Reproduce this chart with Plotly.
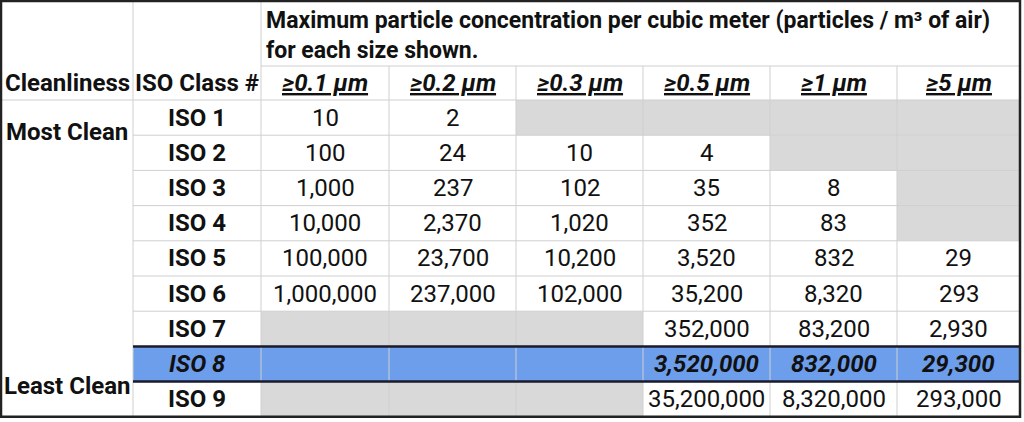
import plotly.graph_objects as go

# ---- data ----
sizes = ["≥0.1 µm", "≥0.2 µm", "≥0.3 µm", "≥0.5 µm", "≥1 µm", "≥5 µm"]
iso_classes = ["ISO 1", "ISO 2", "ISO 3", "ISO 4", "ISO 5", "ISO 6", "ISO 7", "ISO 8", "ISO 9"]
iso1 = ["10", "2", None, None, None, None]
iso2 = ["100", "24", "10", "4", None, None]
iso3 = ["1,000", "237", "102", "35", "8", None]
iso4 = ["10,000", "2,370", "1,020", "352", "83", None]
iso5 = ["100,000", "23,700", "10,200", "3,520", "832", "29"]
iso6 = ["1,000,000", "237,000", "102,000", "35,200", "8,320", "293"]
iso7 = [None, None, None, "352,000", "83,200", "2,930"]
iso8 = [None, None, None, "3,520,000", "832,000", "29,300"]
iso9 = [None, None, None, "35,200,000", "8,320,000", "293,000"]
rows = [iso1, iso2, iso3, iso4, iso5, iso6, iso7, iso8, iso9]
highlight = "ISO 8"
title = "Maximum particle concentration per cubic meter (particles / m³ of air)<br>for each size shown."

# ---- geometry ----
col_x = [0, 133, 261, 389, 516, 643, 770, 897, 1020]
top, title_bot, head_bot = 1, 66, 100
row_h = 35.2
FONT = "Roboto"
GRID = "#cfcfcf"
GREY = "#d9d9d9"
BLUE = "#6d9eeb"

fig = go.Figure()
shapes, ann = [], []

def rect(x0, y0, x1, y1, fill):
    shapes.append(dict(type="rect", x0=x0, x1=x1, y0=y0, y1=y1, fillcolor=fill,
                       line=dict(width=0), layer="below"))

def line(x0, y0, x1, y1, color=GRID, w=1):
    shapes.append(dict(type="line", x0=x0, x1=x1, y0=y0, y1=y1, line=dict(color=color, width=w)))

def text(x, y, s, size=24, anchor="center"):
    ann.append(dict(x=x, y=y, text=s, showarrow=False, xanchor=anchor, yanchor="middle",
                    align="left", font=dict(family=FONT, size=size, color="#111")))

bottom = head_bot + row_h * len(rows)

# fills
for i, (name, vals) in enumerate(zip(iso_classes, rows)):
    y0 = head_bot + i * row_h
    if name == highlight:
        rect(col_x[1], y0, col_x[-1], y0 + row_h, BLUE)
    for j, v in enumerate(vals):
        if v is None and name != highlight:
            rect(col_x[j + 2], y0, col_x[j + 3], y0 + row_h, GREY)

# grid
for i in range(1, len(rows)):
    y = head_bot + i * row_h
    line(col_x[1], y, col_x[-1], y)
line(col_x[0], head_bot, col_x[-1], head_bot)
line(col_x[2], title_bot, col_x[-1], title_bot)
line(col_x[1], top, col_x[1], bottom)
line(col_x[2], top, col_x[2], bottom)
for x in col_x[3:-1]:
    line(x, title_bot, x, bottom)
hi = iso_classes.index(highlight)
for y in (head_bot + hi * row_h, head_bot + (hi + 1) * row_h):
    line(col_x[1], y, col_x[-1], y, "#1a1a2e", 2.5)
shapes.append(dict(type="rect", x0=col_x[0] + 1, x1=col_x[-1], y0=top, y1=bottom,
                   line=dict(color="#222", width=2.5)))

# texts
text(col_x[2] + 3, (top + title_bot) / 2 + 2, "<b>" + title + "</b>", 23, "left")
hy = (title_bot + head_bot) / 2
text((col_x[0] + col_x[1]) / 2 + 1, hy, "<b>Cleanliness</b>")
text((col_x[1] + col_x[2]) / 2, hy, "<b>ISO Class #</b>")
for j, s in enumerate(sizes):
    text((col_x[j + 2] + col_x[j + 3]) / 2, hy, "<b><i><u>" + s + "</u></i></b>")
text(67, 132, "<b>Most Clean</b>")
text(67, 386, "<b>Least Clean</b>")
for i, (name, vals) in enumerate(zip(iso_classes, rows)):
    yc = head_bot + (i + 0.5) * row_h
    fmt = (lambda s: "<b><i>" + s + "</i></b>") if name == highlight else None
    text((col_x[1] + col_x[2]) / 2, yc, fmt(name) if fmt else "<b>" + name + "</b>")
    for j, v in enumerate(vals):
        if v is not None:
            text((col_x[j + 2] + col_x[j + 3]) / 2, yc, fmt(v) if fmt else v)

fig.update_layout(width=1024, height=422, margin=dict(l=0, r=0, t=0, b=0),
                  plot_bgcolor="white", paper_bgcolor="white", shapes=shapes, annotations=ann,
                  xaxis=dict(range=[0, 1024], visible=False, fixedrange=True),
                  yaxis=dict(range=[422, 0], visible=False, fixedrange=True),
                  showlegend=False)
fig.write_html("out.html", config={"displayModeBar": False},
               post_script="document.body.style.margin='0';document.body.style.overflow='hidden';")
